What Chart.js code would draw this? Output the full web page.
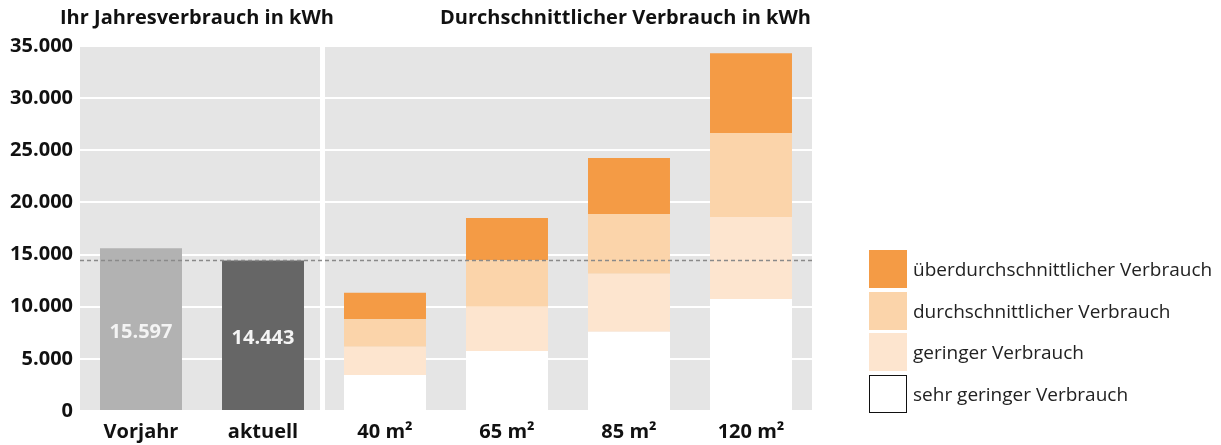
<!DOCTYPE html>
<html lang="de">
<head>
<meta charset="utf-8">
<script src="https://cdn.jsdelivr.net/npm/chart.js@4"></script>
<style>
  html, body { margin: 0; padding: 0; background: #fff; }
  #wrap { position: relative; width: 1221px; height: 445px; overflow: hidden; }
  canvas { position: absolute; left: 0; top: 0; }
  .leg { position: absolute; left: 869px; font-family: "Open Sans", sans-serif; font-size: 19px; color: #222; }
  .leg .sw { position: absolute; left: 0; width: 38px; height: 38px; box-sizing: border-box; }
  .leg .tx { position: absolute; left: 44px; white-space: nowrap; line-height: 38px; top: 0; }
</style>
</head>
<body>
<div id="wrap">
  <canvas id="c" width="1221" height="445"></canvas>
</div>
<script>
// ---- data ----
const categories = ['Vorjahr', 'aktuell', '40 m²', '65 m²', '85 m²', '120 m²'];
const ownConsumption = [15597, 14443, null, null, null, null];
// upper limits (kWh) of the consumption classes per flat size
const limitSehrGering = [null, null, 3450, 5750, 7600, 10750];
const limitGering     = [null, null, 6150, 10000, 13150, 18600];
const limitDurchschn  = [null, null, 8800, 14450, 18900, 26650];
const limitUeber      = [null, null, 11350, 18500, 24250, 34300];
const yTicks = [0, 5000, 10000, 15000, 20000, 25000, 30000, 35000];
const titleLeft = 'Ihr Jahresverbrauch in kWh';
const titleRight = 'Durchschnittlicher Verbrauch in kWh';
const legendLabels = ['überdurchschnittlicher Verbrauch', 'durchschnittlicher Verbrauch', 'geringer Verbrauch', 'sehr geringer Verbrauch'];
const referenceValue = ownConsumption[1];

// ---- styles ----
const FONT = '"Open Sans", sans-serif';
const cOwn = ['#b2b2b2', '#666666'];
const cUeber = '#f49b45', cDurch = '#fbd4aa', cGering = '#fde5cf', cSehr = '#ffffff';

function diff(a, b) { return a.map((v, i) => (v == null || b[i] == null) ? null : v - b[i]); }
function fmt(v) { return String(v).replace(/\B(?=(\d{3})+(?!\d))/g, '.'); }

const bgPlugin = {
  id: 'bg',
  beforeDraw(chart) {
    const { ctx, chartArea: a } = chart;
    ctx.save();
    ctx.fillStyle = '#e5e5e5';
    ctx.fillRect(a.left, a.top, a.right - a.left, a.bottom - a.top);
    ctx.restore();
  },
  beforeDatasetsDraw(chart) {
    const { ctx, chartArea: a, scales } = chart;
    const xs = (scales.x.getPixelForValue(1) + scales.x.getPixelForValue(2)) / 2 - 1.5;
    ctx.save();
    ctx.fillStyle = '#ffffff';
    ctx.fillRect(xs - 2.5, a.top, 5, a.bottom - a.top);
    ctx.restore();
  },
  afterDatasetsDraw(chart) {
    const { ctx, chartArea: a, scales } = chart;
    // dashed reference line
    const y = Math.round(scales.y.getPixelForValue(referenceValue)) + 0.5;
    ctx.save();
    ctx.strokeStyle = '#8a8a8a';
    ctx.lineWidth = 1.5;
    ctx.setLineDash([4, 3]);
    ctx.beginPath();
    ctx.moveTo(a.left, y);
    ctx.lineTo(a.right, y);
    ctx.stroke();
    ctx.setLineDash([]);
    // value labels in own bars
    const meta = chart.getDatasetMeta(0);
    ctx.fillStyle = '#f4f4f4';
    ctx.font = 'bold 20px ' + FONT;
    ctx.textAlign = 'center';
    ctx.textBaseline = 'middle';
    meta.data.forEach((el, i) => {
      const v = ownConsumption[i];
      if (v == null) return;
      ctx.fillText(fmt(v), el.x, (el.y + el.base) / 2 + 3);
    });
    // titles
    ctx.fillStyle = '#111';
    ctx.font = 'bold 20px ' + FONT;
    ctx.textAlign = 'left';
    ctx.fillText(titleLeft, 60, 18);
    ctx.fillText(titleRight, 440, 18);
    ctx.restore();
  }
};

const barOpts = { barPercentage: 0.672, categoryPercentage: 1.0, borderWidth: 0 };

new Chart(document.getElementById('c'), {
  type: 'bar',
  data: {
    labels: categories,
    datasets: [
      Object.assign({ label: 'Ihr Verbrauch', data: ownConsumption, backgroundColor: cOwn }, barOpts),
      Object.assign({ label: legendLabels[3], data: limitSehrGering, backgroundColor: cSehr }, barOpts),
      Object.assign({ label: legendLabels[2], data: diff(limitGering, limitSehrGering), backgroundColor: cGering }, barOpts),
      Object.assign({ label: legendLabels[1], data: diff(limitDurchschn, limitGering), backgroundColor: cDurch }, barOpts),
      Object.assign({ label: legendLabels[0], data: diff(limitUeber, limitDurchschn), backgroundColor: cUeber }, barOpts)
    ]
  },
  options: {
    responsive: false,
    animation: false,
    layout: { padding: { left: 0, right: 409, top: 46, bottom: 0 } },
    plugins: { legend: { display: false }, tooltip: { enabled: false } },
    scales: {
      x: {
        stacked: true,
        grid: { display: false, drawTicks: false },
        border: { display: false },
        ticks: { color: '#111', font: { family: FONT, size: 20, weight: 'bold', lineHeight: 1.0 }, padding: 11, maxRotation: 0 },
        afterFit(s) { s.height = 34; }
      },
      y: {
        stacked: true,
        min: 0, max: 35000,
        afterBuildTicks(s) { s.ticks = yTicks.map(v => ({ value: v })); },
        grid: { color: '#ffffff', lineWidth: 2, drawTicks: false },
        border: { display: false },
        ticks: { color: '#111', font: { family: FONT, size: 20, weight: 'bold' }, padding: 7, callback: v => fmt(v) },
        afterFit(s) { s.width = 80; }
      }
    }
  },
  plugins: [bgPlugin]
});

// ---- HTML legend ----
const legColors = [cUeber, cDurch, cGering, cSehr];
const legTops = [250, 292, 333, 375];
const wrap = document.getElementById('wrap');
legendLabels.forEach((t, i) => {
  const d = document.createElement('div');
  d.className = 'leg';
  d.style.top = legTops[i] + 'px';
  const sw = document.createElement('div');
  sw.className = 'sw';
  sw.style.background = legColors[i];
  if (legColors[i] === cSehr) sw.style.border = '1.5px solid #111';
  const tx = document.createElement('div');
  tx.className = 'tx';
  tx.textContent = t;
  d.appendChild(sw); d.appendChild(tx);
  wrap.appendChild(d);
});
</script>
</body>
</html>
